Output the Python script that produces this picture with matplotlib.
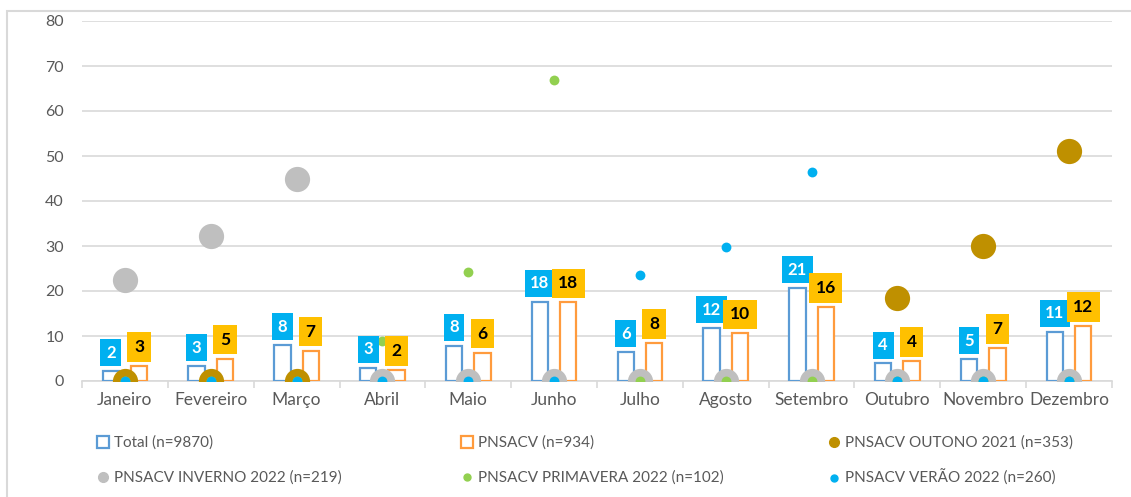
import numpy as np
import matplotlib.pyplot as plt
from matplotlib.lines import Line2D
from matplotlib.patches import Rectangle

meses = ["Janeiro", "Fevereiro", "Março", "Abril", "Maio", "Junho", "Julho",
         "Agosto", "Setembro", "Outubro", "Novembro", "Dezembro"]

# bars
total = [2.2, 3.3, 8.0, 3.0, 7.8, 17.6, 6.4, 11.7, 20.6, 3.9, 4.8, 11.0]
pnsacv = [3.3, 4.9, 6.7, 2.4, 6.3, 17.5, 8.4, 10.6, 16.4, 4.4, 7.3, 12.2]
total_lbl = [2, 3, 8, 3, 8, 18, 6, 12, 21, 4, 5, 11]
pnsacv_lbl = [3, 5, 7, 2, 6, 18, 8, 10, 16, 4, 7, 12]

# points (seasons)
outono = [0, 0, 0, None, None, None, None, None, None, 18.5, 30.0, 51.2]
inverno = [22.4, 32.3, 44.9, 0, 0, 0, 0, 0, 0, 0, 0, 0]
primavera = [0, 0, 0, 8.8, 24.2, 66.9, 0, 0, 0, 0, 0, 0]
verao = [0, 0, 0, 0, 0, 0, 23.6, 29.8, 46.5, 0, 0, 0]

legend_labels = ["Total (n=9870)", "PNSACV (n=934)", "PNSACV OUTONO 2021 (n=353)",
                 "PNSACV INVERNO 2022 (n=219)", "PNSACV PRIMAVERA 2022 (n=102)",
                 "PNSACV VERÃO 2022 (n=260)"]

c_total = "#5B9BD5"
c_pns = "#FF9B3D"
c_out = "#BF9000"
c_inv = "#BFBFBF"
c_pri = "#92D050"
c_ver = "#00B0F0"
c_txt = "#595959"

plt.rcParams["font.family"] = ["Lato", "DejaVu Sans"]

fig = plt.figure(figsize=(11.31, 4.97), dpi=100)
fig.patches.append(Rectangle((7 / 1131, -0.1), 1.2, 1 - 11 / 497 + 0.1,
                             transform=fig.transFigure, fill=False,
                             edgecolor="#D9D9D9", linewidth=1.5))
ax = fig.add_axes([82 / 1131, 1 - 381 / 497, 1030 / 1131, 360 / 497])

x = np.arange(len(meses))
off = 0.165
w = 0.19
ax.bar(x - off, total, w, facecolor="white", edgecolor=c_total, linewidth=1.6, zorder=3)
ax.bar(x + off, pnsacv, w, facecolor="white", edgecolor=c_pns, linewidth=1.6, zorder=3)

def pts(vals):
    xs = [i for i, v in enumerate(vals) if v is not None]
    ys = [v for v in vals if v is not None]
    return xs, ys

xo, yo = pts(outono)
ax.scatter(xo, yo, s=330, color=c_out, zorder=4, linewidths=0)
xi, yi = pts(inverno)
ax.scatter(xi, yi, s=330, color=c_inv, zorder=5, linewidths=0)
xp, yp = pts(primavera)
ax.scatter(xp, yp, s=50, color=c_pri, zorder=6, linewidths=0)
xv, yv = pts(verao)
ax.scatter(xv, yv, s=50, color=c_ver, zorder=7, linewidths=0)

for i in range(len(meses)):
    ax.annotate(str(total_lbl[i]), (x[i] - off, total[i]), xytext=(0, 7.5),
                textcoords="offset points", ha="center", va="bottom",
                fontsize=12, fontweight="bold", color="white", zorder=8,
                bbox=dict(boxstyle="square,pad=0.33", facecolor=c_ver, edgecolor="none"))
    ax.annotate(str(pnsacv_lbl[i]), (x[i] + off, pnsacv[i]), xytext=(0, 8),
                textcoords="offset points", ha="center", va="bottom",
                fontsize=12.5, fontweight="bold", color="black", zorder=9,
                bbox=dict(boxstyle="square,pad=0.38", facecolor="#FFC000", edgecolor="none"))

ax.set_xlim(-0.5, len(meses) - 0.5)
ax.set_ylim(0, 80)
ax.set_yticks(range(0, 81, 10))
ax.yaxis.grid(True, color="#D9D9D9", linewidth=1.2, zorder=0)
ax.set_axisbelow(True)
ax.set_xticks(x)
ax.set_xticklabels(meses, fontsize=12.5, color=c_txt)
ax.set_xticks(np.arange(-0.5, len(meses), 1), minor=True)
ax.tick_params(axis="x", which="major", length=0, pad=8)
ax.tick_params(axis="x", which="minor", length=5, color="#D9D9D9", width=1.2)
ax.tick_params(axis="y", length=0, labelsize=11.5, labelcolor=c_txt, pad=13)
for s in ["top", "right", "left"]:
    ax.spines[s].set_visible(False)
ax.spines["bottom"].set_color("#D9D9D9")
ax.spines["bottom"].set_linewidth(1.2)

handles = [
    Line2D([], [], marker="s", linestyle="none", markersize=8, markerfacecolor="white",
           markeredgecolor=c_total, markeredgewidth=1.6),
    Line2D([], [], marker="s", linestyle="none", markersize=8, markerfacecolor="white",
           markeredgecolor=c_pns, markeredgewidth=1.6),
    Line2D([], [], marker="o", linestyle="none", markersize=7, color=c_out),
    Line2D([], [], marker="o", linestyle="none", markersize=7, color=c_inv),
    Line2D([], [], marker="o", linestyle="none", markersize=5, color=c_pri),
    Line2D([], [], marker="o", linestyle="none", markersize=5, color=c_ver),
]
# legend entries laid out in a 2x3 grid, row by row
col_x = [97, 461, 828]
row_y = [443, 478]
for k, (h, lab) in enumerate(zip(handles, legend_labels)):
    px = col_x[k % 3]
    py = row_y[k // 3]
    fig.legend([h], [lab], loc="center left", frameon=False,
               bbox_to_anchor=(px / 1131, 1 - py / 497), fontsize=11,
               labelcolor=c_txt, handlelength=0.8, handletextpad=0.3,
               borderaxespad=0, borderpad=0)

fig.savefig("out.png", dpi=100)
